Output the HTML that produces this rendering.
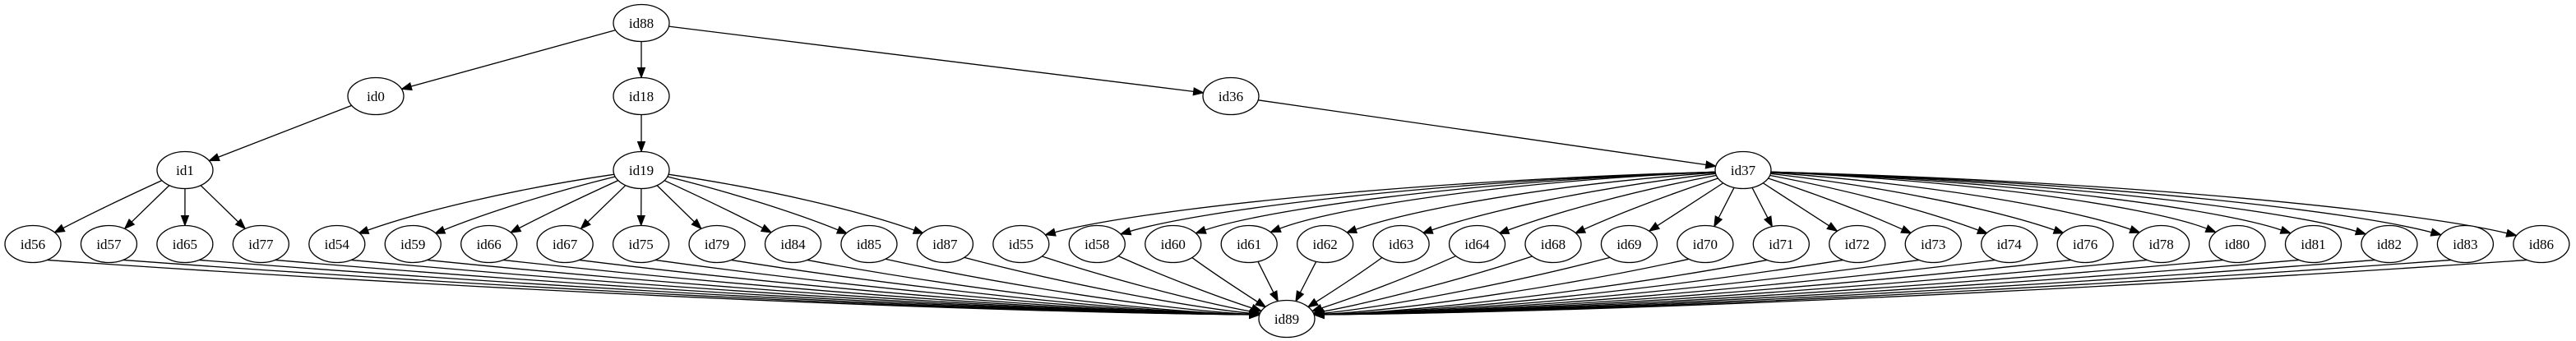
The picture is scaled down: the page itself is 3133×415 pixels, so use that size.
<!DOCTYPE html>
<html><head><meta charset="utf-8"><style>
html,body{margin:0;padding:0;background:#fff;}
svg{display:block;}
text{font-family:"Liberation Serif",serif;font-size:17px;}
</style></head><body>
<svg id="g" width="3133" height="415" viewBox="0 0 3133 415" xmlns="http://www.w3.org/2000/svg"></svg>
<script>
const svg=document.getElementById('g');
const RX=34,RY=22.5;
const N={id88:[780,28],id0:[457,117],id18:[780,117],id36:[1497,117],id1:[225,207],id19:[780,207],id37:[2120,207],id89:[1565,388]};
const leaves=['id56','id57','id65','id77','id54','id59','id66','id67','id75','id79','id84','id85','id87','id55','id58','id60','id61','id62','id63','id64','id68','id69','id70','id71','id72','id73','id74','id76','id78','id80','id81','id82','id83','id86'];
leaves.forEach((l,i)=>N[l]=[40+i*92.45,297]);
const par={};
['id56','id57','id65','id77'].forEach(l=>par[l]='id1');
['id54','id59','id66','id67','id75','id79','id84','id85','id87'].forEach(l=>par[l]='id19');
leaves.slice(13).forEach(l=>par[l]='id37');
let out='';
function bnd(c,tx,ty){const dx=tx-c[0],dy=ty-c[1];const t=1/Math.sqrt(dx*dx/(RX*RX)+dy*dy/(RY*RY));return [c[0]+dx*t,c[1]+dy*t];}
function arrow(x1,y1,x2,y2){const dx=x2-x1,dy=y2-y1,L=Math.hypot(dx,dy),ux=dx/L,uy=dy/L;const bx=x2-ux*12,by=y2-uy*12;return `<polygon points="${x2},${y2} ${bx-uy*4.5},${by+ux*4.5} ${bx+uy*4.5},${by-ux*4.5}" fill="#000" stroke="#000"/>`;}
function lerp(a,b,t){return [a[0]+(b[0]-a[0])*t,a[1]+(b[1]-a[1])*t];}
function curve(s,c1,c2,e){
 const d2x=e[0]-c2[0],d2y=e[1]-c2[1],L=Math.hypot(d2x,d2y)||1;const ex=e[0]-d2x/L*12,ey=e[1]-d2y/L*12;
 out+=`<path d="M${s[0]},${s[1]}C${c1[0]},${c1[1]} ${c2[0]},${c2[1]} ${ex},${ey}" stroke="#000" stroke-width="1.3" fill="none"/>`+arrow(c2[0],c2[1],e[0],e[1]);
}
function straight(a,b){const A=N[a],B=N[b];const s=bnd(A,B[0],B[1]),e=bnd(B,A[0],A[1]);curve(s,lerp(s,e,0.33),lerp(s,e,0.66),e);}
[['id88','id0'],['id88','id18'],['id88','id36'],['id0','id1'],['id18','id19'],['id36','id37']].forEach(p=>straight(p[0],p[1]));
leaves.forEach(l=>{
 const P=N[par[l]],C=N[l];const dx=C[0]-P[0];
 const f=Math.min(1,Math.max(0,(Math.abs(dx)-150)/450));
 // straight version
 const ss=bnd(P,C[0],C[1]),es=bnd(C,P[0],P[1]);
 // curved version
 const sc=bnd(P,P[0]+dx,P[1]+Math.abs(dx)*0.06+5);
 const ec=bnd(C,C[0]-dx*0.12,C[1]-40);
 const s=lerp(ss,sc,f),e=lerp(es,ec,f);
 const c1s=lerp(ss,es,0.33),c2s=lerp(ss,es,0.66);
 const c1c=[P[0]+dx*0.5,sc[1]+12],c2c=[ec[0]-dx*0.12,ec[1]-28];
 curve(s,lerp(c1s,c1c,f),lerp(c2s,c2c,f),e);
 // to id89
 const T=N.id89;const tdx=T[0]-C[0];const sign=Math.sign(tdx)||1;
 const g=Math.min(1,Math.max(0,(Math.abs(tdx)-60)/500));
 const ss2=bnd(C,T[0],T[1]),es2=bnd(T,C[0],C[1]);
 const sc2=bnd(C,C[0]+sign*22,C[1]+25);
 const ec2=bnd(T,T[0]-sign*40,T[1]-6);
 const s2=lerp(ss2,sc2,g),e2=lerp(es2,ec2,g);
 const k1s=lerp(ss2,es2,0.33),k2s=lerp(ss2,es2,0.66);
 const k1c=[C[0]+tdx*0.3,C[1]+50],k2c=[T[0]-tdx*0.3,ec2[1]-4];
 curve(s2,lerp(k1s,k1c,g),lerp(k2s,k2c,g),e2);
});
for(const k in N){const c=N[k];out+=`<ellipse cx="${c[0]}" cy="${c[1]}" rx="${RX}" ry="${RY}" fill="#fff" stroke="#000" stroke-width="1.3"/><text x="${c[0]}" y="${c[1]+6}" text-anchor="middle">${k}</text>`;}
svg.innerHTML=out;
</script>
</body></html>
